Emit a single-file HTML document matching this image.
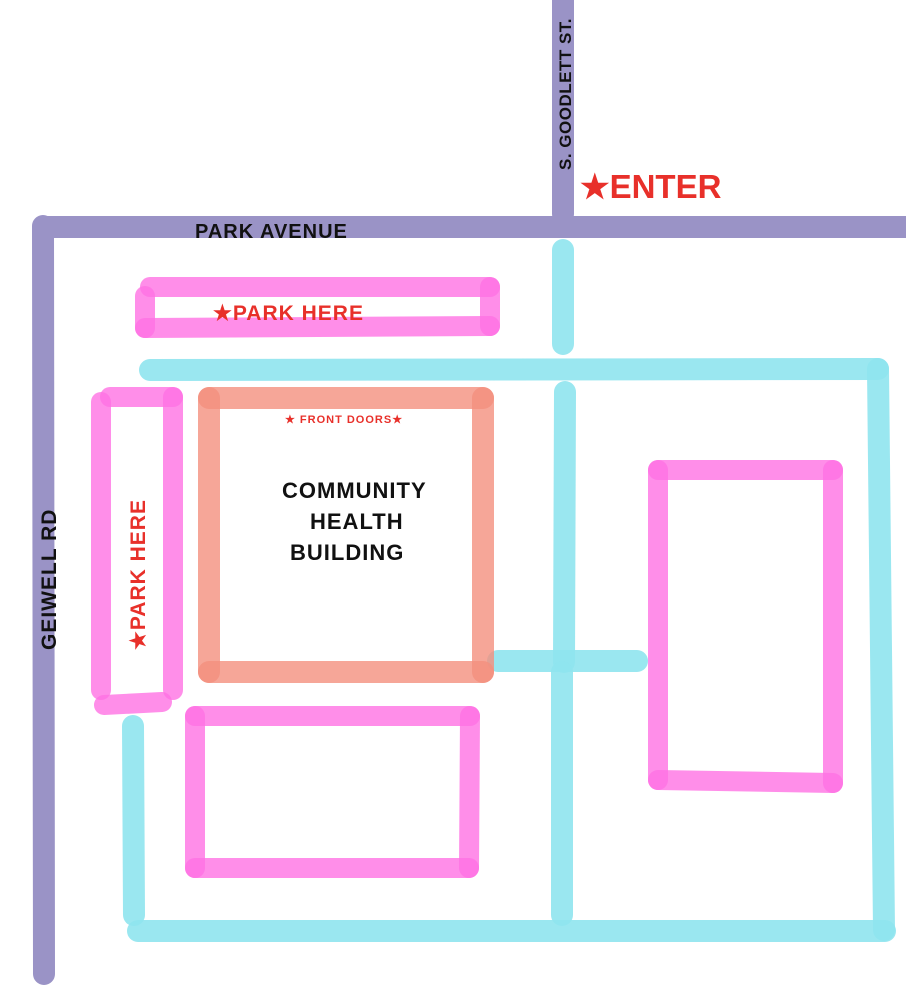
<!DOCTYPE html>
<html><head><meta charset="utf-8"><style>
html,body{margin:0;padding:0;background:#fff;}
svg{display:block;}
text{font-family:"Liberation Sans",sans-serif;font-weight:bold;}
</style></head><body>
<svg width="906" height="1000" viewBox="0 0 906 1000" xmlns="http://www.w3.org/2000/svg">
<g stroke-linecap="round" fill="none">
<g stroke="#9a93c6" stroke-width="22">
<line x1="44" y1="227" x2="906" y2="227"/>
<line x1="43" y1="226" x2="44" y2="974"/>
<line x1="563" y1="0" x2="563" y2="214"/>
</g>
<g stroke="#8fe4ee" stroke-width="22" stroke-opacity="0.9">
<line x1="563" y1="250" x2="563" y2="344"/>
<line x1="150" y1="370" x2="878" y2="369"/>
<line x1="878" y1="369" x2="884" y2="930"/>
<line x1="565" y1="392" x2="564" y2="662"/>
<line x1="498" y1="661" x2="637" y2="661"/>
<line x1="562" y1="672" x2="562" y2="915"/>
<line x1="138" y1="931" x2="885" y2="931"/>
<line x1="133" y1="726" x2="134" y2="915"/>
</g>
<g stroke="#f4907e" stroke-width="22" stroke-opacity="0.8">
<line x1="209" y1="398" x2="483" y2="398"/>
<line x1="209" y1="398" x2="209" y2="672"/>
<line x1="483" y1="398" x2="483" y2="672"/>
<line x1="209" y1="672" x2="483" y2="672"/>
</g>
<g stroke="#ff72e4" stroke-width="20" stroke-opacity="0.8">
<line x1="150" y1="287" x2="490" y2="287"/>
<line x1="145" y1="328" x2="490" y2="326"/>
<line x1="145" y1="296" x2="145" y2="328"/>
<line x1="490" y1="287" x2="490" y2="326"/>
<line x1="110" y1="397" x2="173" y2="397"/>
<line x1="101" y1="402" x2="101" y2="690"/>
<line x1="173" y1="397" x2="173" y2="690"/>
<line x1="104" y1="705" x2="162" y2="702"/>
<line x1="195" y1="716" x2="470" y2="716"/>
<line x1="195" y1="716" x2="195" y2="868"/>
<line x1="470" y1="716" x2="469" y2="868"/>
<line x1="195" y1="868" x2="469" y2="868"/>
<line x1="658" y1="470" x2="833" y2="470"/>
<line x1="658" y1="470" x2="658" y2="780"/>
<line x1="833" y1="470" x2="833" y2="783"/>
<line x1="658" y1="780" x2="833" y2="783"/>
</g>
</g>
<text x="195" y="238" font-size="20" fill="#111" letter-spacing="1">PARK AVENUE</text>
<text transform="translate(571,170) rotate(-90)" font-size="17" fill="#111" letter-spacing="0.5">S. GOODLETT ST.</text>
<text transform="translate(56,650) rotate(-90)" font-size="21" fill="#111" letter-spacing="1">GEIWELL RD</text>
<text x="580" y="198" font-size="33" fill="#e8302a" font-weight="normal">★ENTER</text>
<text x="213" y="320" font-size="21" fill="#e8302a" letter-spacing="1">★PARK HERE</text>
<text transform="translate(145,650) rotate(-90)" font-size="21" fill="#e8302a" letter-spacing="1">★PARK HERE</text>
<text x="285" y="423" font-size="11" fill="#e8302a" font-weight="normal" letter-spacing="1">★ FRONT DOORS★</text>
<text x="282" y="498" font-size="22" fill="#111" font-weight="normal" letter-spacing="1">COMMUNITY</text>
<text x="310" y="529" font-size="22" fill="#111" font-weight="normal" letter-spacing="1">HEALTH</text>
<text x="290" y="560" font-size="22" fill="#111" font-weight="normal" letter-spacing="1">BUILDING</text>
</svg>
</body></html>
